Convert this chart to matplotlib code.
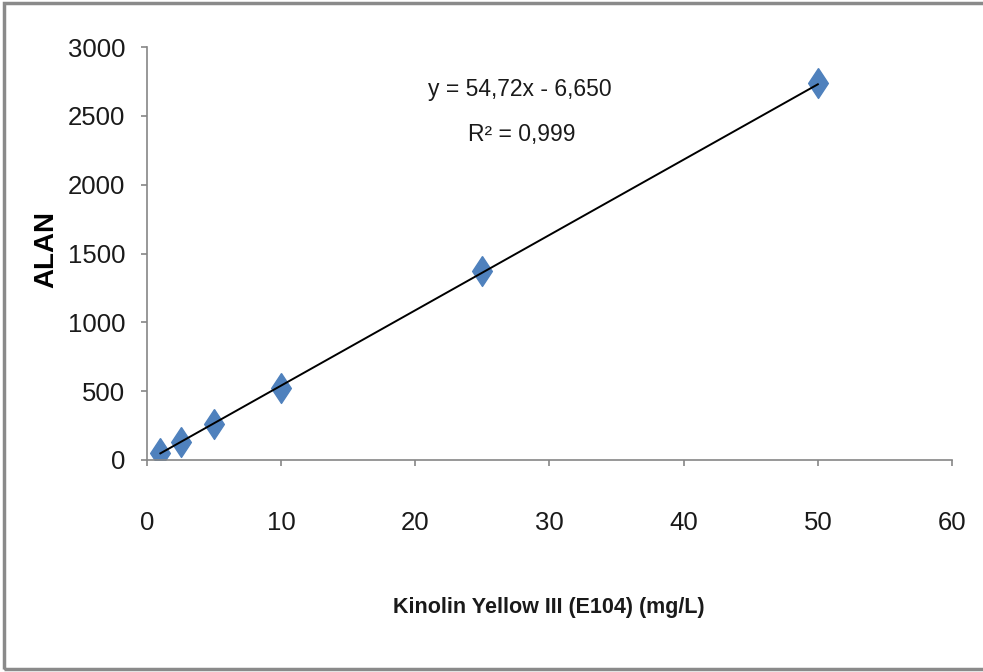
import matplotlib
matplotlib.use("Agg")
import matplotlib.pyplot as plt
from matplotlib.patches import Rectangle

# calibration data
conc = [1, 2.5, 5, 10, 25, 50]
area = [53, 133, 261, 525, 1375, 2740]

# trendline as reported
slope = 54.72
intercept = -6.650
eq_line1 = "y = 54,72x - 6,650"
eq_line2 = "R² = 0,999"

x_ticks = [0, 10, 20, 30, 40, 50, 60]
y_ticks = [0, 500, 1000, 1500, 2000, 2500, 3000]

plt.rcParams["font.family"] = ["Liberation Sans", "DejaVu Sans"]

fig = plt.figure(figsize=(9.83, 6.72), dpi=100)
ax = fig.add_axes([0.1495, 0.3155, 0.819, 0.6145])

diamond = [(0, 1), (0.66, 0), (0, -1), (-0.66, 0), (0, 1)]
x_fit = [conc[0], conc[-1]]
y_fit = [slope * v + intercept for v in x_fit]
ax.plot(x_fit, y_fit, color="black", linewidth=1.4, zorder=3)
ax.plot(conc, area, linestyle="none", marker=diamond, markersize=21.5,
        color="#4F81BD", markeredgecolor="#4F81BD", markeredgewidth=1, zorder=2)

ax.set_xlim(0, 60)
ax.set_ylim(0, 3000)
ax.set_xticks(x_ticks)
ax.set_yticks(y_ticks)

for s in ["top", "right"]:
    ax.spines[s].set_visible(False)
for s in ["left", "bottom"]:
    ax.spines[s].set_color("#868686")
    ax.spines[s].set_linewidth(1.2)

ax.tick_params(axis="both", colors="#868686", labelcolor="#1a1a1a",
               length=4.5, width=1.2, labelsize=18.5)
ax.tick_params(axis="x", pad=32)
ax.tick_params(axis="y", pad=11)

ax.text(0.463, 0.896, eq_line1, transform=ax.transAxes, ha="center", va="center",
        fontsize=16.5, color="#1a1a1a")
ax.text(0.465, 0.787, eq_line2, transform=ax.transAxes, ha="center", va="center",
        fontsize=16.5, color="#1a1a1a")

fig.text(0.5585, 0.0967, "Kinolin Yellow III (E104) (mg/L)", ha="center",
         va="center", fontsize=15.5, fontweight="bold", color="#1a1a1a")
fig.text(0.047, 0.628, "ALAN", rotation=90, ha="center", va="center",
         fontsize=20, fontweight="bold")

# chart area border
fig.patches.append(Rectangle((0.004, 0.005), 1.2, 0.99, transform=fig.transFigure,
                             fill=False, edgecolor="#8a8a8a", linewidth=2.5))

fig.savefig("out.png", dpi=100)
